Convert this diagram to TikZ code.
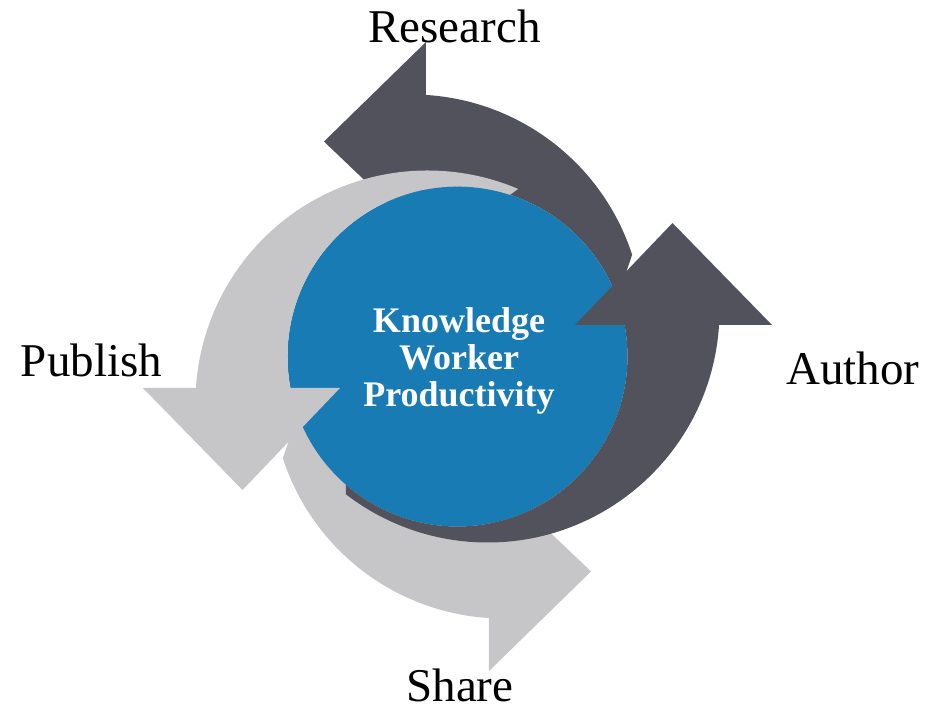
\documentclass[tikz,border=0pt]{standalone}
\usepackage{fontspec}
\setmainfont{Liberation Serif}
\definecolor{arrowdark}{RGB}{82,82,92}
\definecolor{arrowlight}{RGB}{198,198,201}
\definecolor{hubblue}{RGB}{24,123,180}
\tikzset{
  step label/.style={font=\fontsize{23.5}{28}\selectfont, anchor=base},
  hub text/.style={font=\fontsize{18}{18.5}\selectfont\bfseries, text=white, align=center},
}
% one cycle arrow: #1 rotation, #2 colour, #3 outer tail angle, #4 inner tail angle
\newcommand{\cyclearrow}[4]{%
  \fill[#2, rotate=#1] (10.68:170) -- (117.5,31.5) -- (215,133.5) -- (314.5,31.5)
    -- (261.55,31.5) arc[start angle=-3.58, end angle=#3, radius=232]
    -- (#4:170) arc[start angle=#4, end angle=10.68, radius=170] -- cycle;}

\begin{document}
\begin{tikzpicture}[x=0.5pt, y=0.5pt]
    \useasboundingbox (-457.5,-355.5) rectangle (476.5,356.5);
    \cyclearrow{90}{arrowdark}{-72}{-70}
    \cyclearrow{-90}{arrowlight}{-72}{-70}
    \fill[hubblue] (0,0) circle[radius=170];
    \cyclearrow{0}{arrowdark}{-127.6}{-131}
    \cyclearrow{180}{arrowlight}{-113}{-108}
    \node[hub text] (hub) at (1.5,-4) {Knowledge\\Worker\\Productivity};
    \node[step label] (research) at (-3,313.5) {Research};
    \node[step label] (author) at (395.5,-28.5) {Author};
    \node[step label] (publish) at (-366,-20.5) {Publish};
    \node[step label] (share) at (2.5,-345) {Share};
\end{tikzpicture}
\end{document}
